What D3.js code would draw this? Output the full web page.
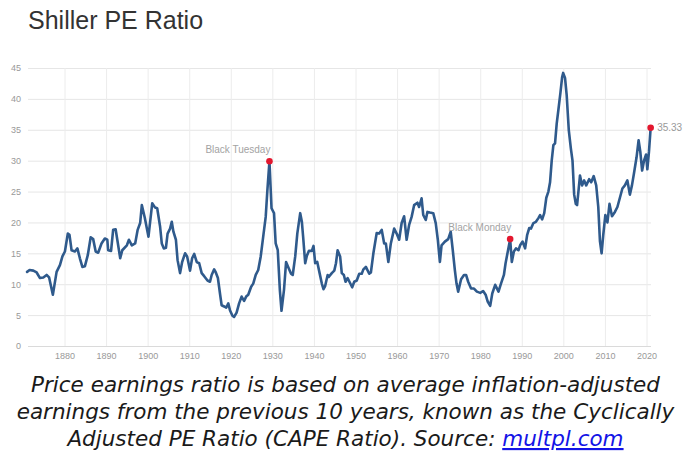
<!DOCTYPE html>
<html>
<head>
<meta charset="utf-8">
<script src="https://cdn.jsdelivr.net/npm/d3@7"></script>
<style>
  html, body { margin: 0; padding: 0; background: #fff; }
  svg { display: block; }
</style>
</head>
<body>
<svg id="chart" width="691" height="453"></svg>
<script>
// Shiller (cyclically adjusted) PE ratio, decimal year -> CAPE value
const years = [
  1871.0, 1871.6, 1872.5, 1873.3, 1874.1, 1874.9, 1875.7, 1876.3, 1877.2, 1878.1,
  1878.9, 1879.5, 1880.1, 1880.8, 1881.2, 1881.7, 1882.5, 1883.1, 1883.7, 1884.3,
  1884.9, 1885.6, 1886.3, 1886.9, 1887.5, 1888.1, 1888.9, 1889.7, 1890.3, 1890.5,
  1891.2, 1891.7, 1892.3, 1892.7, 1893.4, 1893.9, 1895.0, 1895.5, 1896.2, 1897.0,
  1897.6, 1898.2, 1898.6, 1899.3, 1900.2, 1901.1, 1901.8, 1902.3, 1903.0, 1903.4,
  1903.9, 1904.4, 1904.8, 1905.4, 1905.8, 1906.2, 1906.8, 1907.2, 1907.8, 1908.3,
  1909.0, 1909.5, 1910.2, 1910.7, 1911.2, 1911.8, 1912.4, 1913.0, 1913.6, 1914.4,
  1915.0, 1915.4, 1916.0, 1916.4, 1916.9, 1917.4, 1917.8, 1918.4, 1918.9, 1919.4,
  1919.8, 1920.4, 1920.8, 1921.4, 1922.0, 1922.6, 1923.2, 1923.7, 1924.2, 1924.9,
  1925.4, 1926.0, 1926.6, 1927.2, 1927.8, 1928.4, 1928.8, 1929.3, 1929.8, 1930.4,
  1930.8, 1931.3, 1931.8, 1932.2, 1932.8, 1933.3, 1933.8, 1934.5, 1934.9, 1935.5,
  1936.0, 1936.7, 1937.1, 1937.4, 1937.9, 1938.3, 1938.8, 1939.5, 1939.9, 1940.3,
  1940.8, 1941.3, 1941.9, 1942.3, 1942.7, 1943.3, 1943.6, 1944.3, 1944.9, 1945.3,
  1945.7, 1946.3, 1946.7, 1947.2, 1947.6, 1948.1, 1948.7, 1949.2, 1949.7, 1950.3,
  1950.9, 1951.5, 1951.9, 1952.5, 1953.3, 1953.7, 1954.3, 1955.1, 1955.7, 1956.3,
  1956.9, 1957.3, 1957.9, 1958.5, 1959.3, 1959.9, 1960.5, 1961.1, 1961.7, 1962.3,
  1962.9, 1963.5, 1964.1, 1964.9, 1965.3, 1965.9, 1966.3, 1966.9, 1967.3, 1967.9,
  1968.7, 1969.3, 1969.8, 1970.3, 1970.7, 1971.5, 1972.3, 1972.9, 1973.4, 1973.9,
  1974.3, 1974.7, 1975.4, 1976.1, 1976.6, 1977.1, 1977.8, 1978.5, 1979.2, 1980.0,
  1980.7, 1981.3, 1981.8, 1982.4, 1982.9, 1983.6, 1984.4, 1984.9, 1985.7, 1986.1,
  1987.2, 1987.6, 1988.1, 1988.6, 1989.2, 1989.6, 1990.2, 1990.8, 1991.3, 1991.8,
  1992.2, 1992.8, 1993.4, 1994.0, 1994.4, 1994.9, 1995.4, 1995.9, 1996.4, 1996.8,
  1997.2, 1997.6, 1998.0, 1998.4, 1998.8, 1999.3, 1999.7, 1999.95, 2000.4, 2000.8,
  2001.3, 2001.8, 2002.2, 2002.6, 2003.0, 2003.3, 2003.7, 2004.0, 2004.5, 2005.0,
  2005.5, 2006.2, 2006.7, 2007.3, 2007.9, 2008.4, 2008.8, 2009.2, 2009.6, 2010.1,
  2010.6, 2011.1, 2011.7, 2012.4, 2013.0, 2013.6, 2014.2, 2014.8, 2015.4, 2016.0,
  2016.5, 2017.0, 2017.6, 2018.1, 2018.5, 2018.95, 2019.4, 2019.9, 2020.2, 2020.6,
  2021.0
];
const cape = [
  12.0, 12.3, 12.2, 11.9, 11.0, 11.1, 11.5, 11.1, 8.3, 12.0,
  13.1, 14.5, 15.3, 18.2, 18.0, 15.5, 15.3, 15.8, 14.2, 12.8,
  12.9, 14.7, 17.6, 17.3, 15.3, 15.1, 16.6, 17.4, 17.2, 15.5,
  15.4, 18.8, 18.9, 17.2, 14.2, 15.5, 16.3, 17.2, 16.3, 16.6,
  18.8, 19.9, 22.8, 20.8, 17.7, 23.1, 22.4, 22.3, 19.3, 16.6,
  15.8, 15.9, 18.2, 19.0, 20.1, 18.5, 17.2, 13.9, 11.8, 13.6,
  15.0, 14.5, 12.2, 14.2, 14.9, 13.6, 13.4, 11.8, 11.3, 10.6,
  10.4, 11.5, 12.4, 11.9, 11.0, 8.5, 6.6, 6.4, 6.2, 6.9,
  5.8, 4.9, 4.7, 5.4, 6.9, 8.0, 7.3, 8.0, 8.3, 9.6,
  10.1, 11.5, 12.3, 14.5, 17.7, 20.9, 25.2, 29.9, 22.3, 21.5,
  16.6, 15.5, 9.1, 5.7, 9.1, 13.6, 12.8, 11.7, 11.5, 14.5,
  18.2, 21.5, 20.1, 17.7, 13.4, 14.6, 15.4, 15.4, 16.2, 13.4,
  13.6, 12.0, 10.1, 9.2, 9.7, 11.5, 11.2, 11.8, 12.2, 13.4,
  15.5, 14.5, 11.8, 11.5, 10.4, 11.0, 10.2, 9.5, 10.4, 10.6,
  11.7, 11.7, 12.4, 12.8, 11.7, 11.9, 15.0, 18.3, 18.2, 18.8,
  16.6, 16.6, 13.6, 16.6, 19.0, 18.2, 17.2, 19.9, 21.0, 17.2,
  19.6, 20.9, 22.8, 23.2, 22.5, 23.9, 21.2, 20.4, 21.7, 21.6,
  21.5, 19.9, 17.2, 13.6, 16.3, 16.9, 17.3, 18.5, 15.5, 12.3,
  10.1, 8.8, 10.8, 11.5, 11.5, 10.4, 9.3, 9.3, 8.8, 8.6,
  8.9, 8.3, 7.2, 6.5, 8.5, 9.9, 8.8, 9.9, 11.5, 13.4,
  17.3, 13.6, 15.3, 15.8, 15.5, 16.3, 16.9, 15.8, 18.0, 19.1,
  19.0, 19.9, 20.1, 20.7, 21.2, 20.5, 21.5, 24.0, 25.0, 26.5,
  30.0, 32.5, 32.8, 36.0, 38.2, 41.0, 43.5, 44.2, 43.4, 40.6,
  35.0, 32.0, 30.0, 24.5, 23.0, 22.8, 25.5, 27.6, 26.0, 26.8,
  26.0, 27.0, 26.5, 27.5, 26.0, 22.5, 17.0, 15.0, 18.0, 21.2,
  20.0, 23.0, 21.0, 21.7, 22.5, 24.0, 25.5, 26.0, 26.8, 24.5,
  26.0, 28.0, 30.5, 33.3, 31.5, 28.4, 30.0, 31.0, 28.6, 31.5,
  35.33
];

const yTicks = [0, 5, 10, 15, 20, 25, 30, 35, 40, 45];
const xTicks = [1880, 1890, 1900, 1910, 1920, 1930, 1940, 1950, 1960, 1970, 1980, 1990, 2000, 2010, 2020];

// Market crashes marked on the line
const eventNames = ["Black Tuesday", "Black Monday"];
const eventYears = [1929.3, 1987.2];

const titleText = "Shiller PE Ratio";
const captionLines = [
  "Price earnings ratio is based on average inflation-adjusted",
  "earnings from the previous 10 years, known as the Cyclically",
  "Adjusted PE Ratio (CAPE Ratio). Source: "
];
const sourceLink = "multpl.com";

// ---- layout ----
const plot = { left: 28, right: 651, top: 68, bottom: 346 };
const svg = d3.select("#chart");

const x = d3.scaleLinear().domain([1880, 2020]).range([64.5, 646.5]);
const y = d3.scaleLinear().domain([0, 45]).range([plot.bottom, plot.top]);

const axisFont = "'Liberation Sans', Arial, sans-serif";

// title
svg.append("text")
  .attr("x", 28).attr("y", 29)
  .attr("font-family", axisFont)
  .attr("font-size", 25)
  .attr("fill", "#333")
  .text(titleText);

// horizontal grid + y labels
const gy = svg.append("g")
  .attr("transform", `translate(${plot.left},0)`)
  .call(d3.axisLeft(y).tickValues(yTicks).tickFormat(d3.format("d"))
    .tickSize(-(plot.right - plot.left)).tickPadding(7));
gy.select(".domain").remove();
gy.selectAll("line").attr("stroke", "#e6e6e6").attr("stroke-width", 1);
gy.selectAll("text").attr("fill", "#999").attr("font-size", 9).attr("font-family", axisFont);

// vertical grid + x labels
const gx = svg.append("g")
  .attr("transform", `translate(0,${plot.bottom})`)
  .call(d3.axisBottom(x).tickValues(xTicks).tickFormat(d3.format("d"))
    .tickSize(-(plot.bottom - plot.top)).tickPadding(6.5));
gx.select(".domain").remove();
gx.selectAll("line").attr("stroke", "#ececec").attr("stroke-width", 1);
gx.selectAll("text").attr("fill", "#999").attr("font-size", 9).attr("font-family", axisFont);

// baseline of the plot
svg.append("line")
  .attr("x1", plot.left).attr("x2", plot.right)
  .attr("y1", y(0) + 0.5).attr("y2", y(0) + 0.5)
  .attr("stroke", "#dadada");

// CAPE line
const series = years.map((yr, i) => ({ year: yr, value: cape[i] }));
const line = d3.line().x(d => x(d.year)).y(d => y(d.value));
svg.append("path")
  .datum(series)
  .attr("d", line)
  .attr("fill", "none")
  .attr("stroke", "#2f5a8c")
  .attr("stroke-width", 2.6)
  .attr("stroke-linejoin", "round")
  .attr("stroke-linecap", "round");

// event markers with their names
const events = eventNames.map((name, i) => {
  const idx = years.indexOf(eventYears[i]);
  return { name, year: years[idx], value: cape[idx] };
});
const ev = svg.append("g").selectAll("g").data(events).join("g");
ev.append("circle")
  .attr("cx", d => x(d.year)).attr("cy", d => y(d.value)).attr("r", 3.3)
  .attr("fill", "#e3172e");
ev.append("text")
  .attr("x", d => x(d.year) + 1).attr("y", d => y(d.value) - 8.5)
  .attr("text-anchor", "end")
  .attr("font-family", axisFont).attr("font-size", 10)
  .attr("fill", "#a3a3a3")
  .text(d => d.name);

// latest value
const last = series[series.length - 1];
svg.append("circle")
  .attr("cx", x(last.year)).attr("cy", y(last.value)).attr("r", 3.3)
  .attr("fill", "#e3172e");
svg.append("text")
  .attr("x", x(last.year) + 6.5).attr("y", y(last.value))
  .attr("dy", "0.35em")
  .attr("font-family", axisFont).attr("font-size", 10)
  .attr("fill", "#999")
  .text(last.value.toFixed(2));

// caption
const cap = svg.append("text")
  .attr("text-anchor", "middle")
  .attr("font-family", "'DejaVu Sans', Verdana, sans-serif")
  .attr("font-style", "italic")
  .attr("font-size", 21.5)
  .attr("fill", "#1a1a1a");
captionLines.forEach((t, i) => {
  cap.append("tspan").attr("x", 345.5).attr("y", 392 + i * 27).text(t);
  if (i === captionLines.length - 1) {
    cap.append("tspan")
      .attr("fill", "#1414e6")
      .attr("text-decoration", "underline")
      .text(sourceLink);
  }
});
</script>
</body>
</html>
